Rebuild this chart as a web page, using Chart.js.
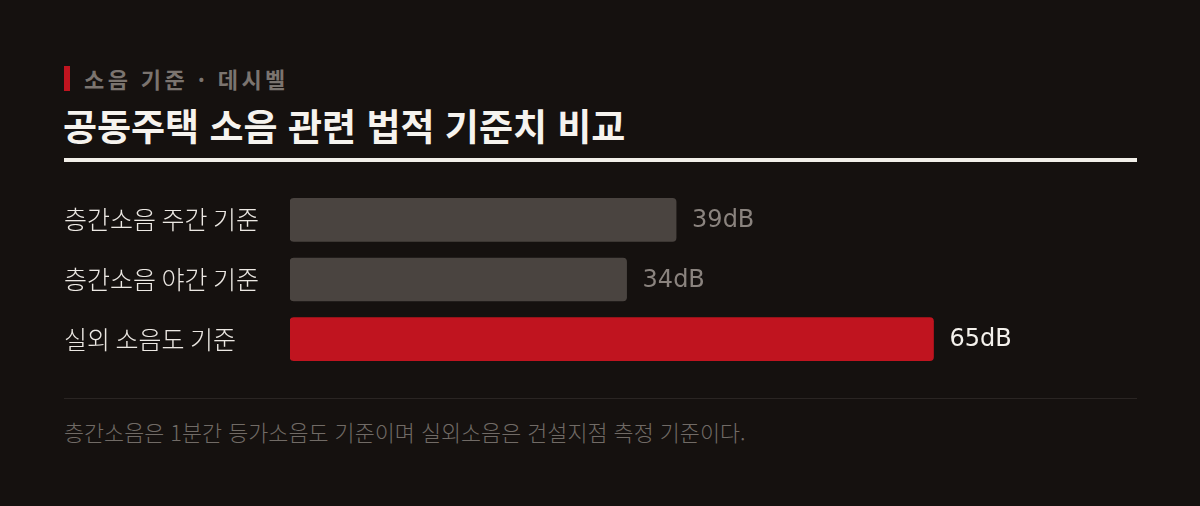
<!DOCTYPE html>
<html lang="ko">
<head>
<meta charset="utf-8">
<script src="https://cdn.jsdelivr.net/npm/chart.js@4"></script>
<style>
  html, body { margin:0; padding:0; }
  body { width:1200px; height:506px; background:#15110f; position:relative; overflow:hidden;
         font-family:"Noto Sans CJK KR","Noto Sans",sans-serif; }
  .marker { position:absolute; left:64px; top:66px; width:6px; height:25px; background:#c0141f; }
  .kicker { position:absolute; left:84px; top:64px; font-size:22px; line-height:28px; font-weight:700;
            color:#7b746f; letter-spacing:3.4px; white-space:nowrap; }
  .title { position:absolute; left:63px; top:101px; font-size:37px; line-height:48px; font-weight:700;
           color:#f6f3ee; white-space:nowrap; }
  .rule { position:absolute; left:64px; top:158px; width:1073px; height:4px; background:#f2efe9; }
  .chartbox { position:absolute; left:64px; top:175px; width:1018px; height:209px; }
  .sep { position:absolute; left:64px; top:398px; width:1073px; height:1px; background:#2a2523; }
  .note { position:absolute; left:64px; top:418px; font-size:21.8px; line-height:28px; font-weight:300;
          color:#716b66; white-space:nowrap; }
</style>
</head>
<body>
<div class="marker"></div>
<div class="kicker">소음 기준 · 데시벨</div>
<div class="title">공동주택 소음 관련 법적 기준치 비교</div>
<div class="rule"></div>
<div class="chartbox"><canvas id="c"></canvas></div>
<div class="sep"></div>
<div class="note">층간소음은 1분간 등가소음도 기준이며 실외소음은 건설지점 측정 기준이다.</div>
<script>
const categories = ["층간소음 주간 기준", "층간소음 야간 기준", "실외 소음도 기준"];
const values = [39, 34, 65];
const unit = "dB";
const barColors = ["#4a4440", "#4a4440", "#c0141f"];
const valueColors = ["#8a837e", "#8a837e", "#f4f1ec"];

const valueLabels = {
  id: "valueLabels",
  afterDatasetsDraw(chart) {
    const ctx = chart.ctx;
    const meta = chart.getDatasetMeta(0);
    ctx.save();
    ctx.font = '400 24px "DejaVu Sans", sans-serif';
    ctx.textBaseline = "middle";
    ctx.textAlign = "left";
    meta.data.forEach((bar, i) => {
      ctx.fillStyle = valueColors[i];
      ctx.fillText(values[i] + unit, bar.x + 16, bar.y + 1);
    });
    ctx.restore();
  }
};

new Chart(document.getElementById("c"), {
  type: "bar",
  data: {
    labels: categories,
    datasets: [{
      data: values,
      backgroundColor: barColors,
      borderRadius: 4,
      borderSkipped: false,
      barThickness: 43
    }]
  },
  options: {
    indexAxis: "y",
    responsive: true,
    maintainAspectRatio: false,
    animation: false,
    layout: { padding: 0 },
    plugins: { legend: { display: false }, tooltip: { enabled: false } },
    scales: {
      x: { display: false, min: 0, max: 80 },
      y: {
        grid: { display: false },
        border: { display: false },
        afterFit(scale) { scale.width = 226; },
        ticks: {
          crossAlign: "far",
          padding: 0,
          color: "#ece8e3",
          font: { family: '"Noto Sans CJK KR", "Noto Sans", sans-serif', size: 25, weight: 300 }
        }
      }
    }
  },
  plugins: [valueLabels]
});
</script>
</body>
</html>
